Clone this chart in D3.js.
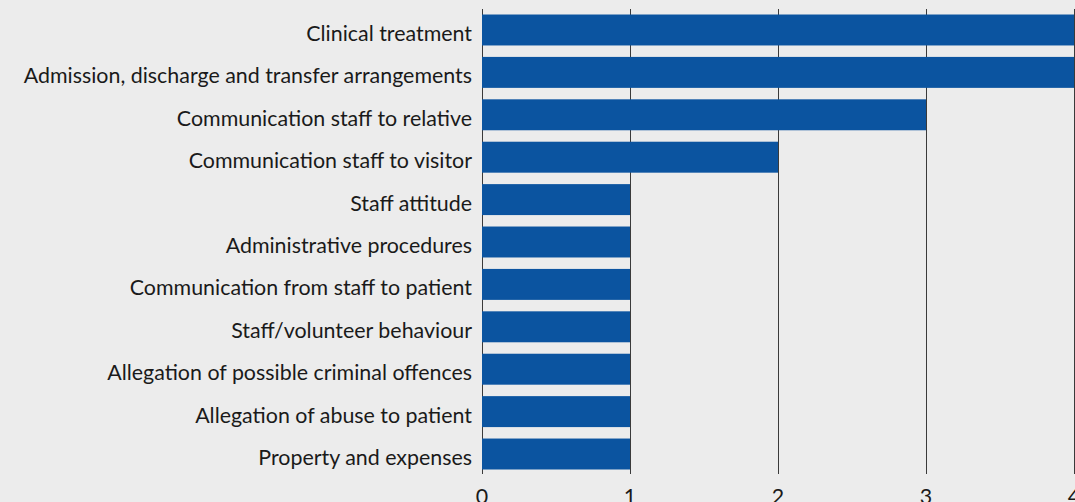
<!DOCTYPE html>
<html>
<head>
<meta charset="utf-8">
<script src="https://cdn.jsdelivr.net/npm/d3@7"></script>
<style>
  html, body { margin: 0; padding: 0; background: #ececec; }
  svg { display: block; }
  text { font-family: "Lato", "Noto Sans", sans-serif; fill: #1a1a1a; }
</style>
</head>
<body>
<svg id="chart" width="1075" height="502"></svg>
<script>
// Complaint categories and counts
const categories = [
  "Clinical treatment",
  "Admission, discharge and transfer arrangements",
  "Communication staff to relative",
  "Communication staff to visitor",
  "Staff attitude",
  "Administrative procedures",
  "Communication from staff to patient",
  "Staff/volunteer behaviour",
  "Allegation of possible criminal offences",
  "Allegation of abuse to patient",
  "Property and expenses"
];
const counts = [4, 4, 3, 2, 1, 1, 1, 1, 1, 1, 1];
const xTicks = [0, 1, 2, 3, 4];

const svg = d3.select("#chart");
const W = 1075, H = 502;
const plotLeft = 482, plotRight = 1074, plotTop = 9, plotBottom = 475;
const fontSize = 21.4;

svg.append("rect").attr("width", W).attr("height", H).attr("fill", "#ececec");

const x = d3.scaleLinear().domain([0, 4]).range([plotLeft, plotRight]);
const y = d3.scaleBand().domain(categories).range([plotTop, plotBottom])
  .paddingInner(0.27).paddingOuter(0.13);

// vertical gridlines (drawn behind the bars)
svg.append("g").selectAll("line").data(xTicks).join("line")
  .attr("x1", d => x(d) + 0.5).attr("x2", d => x(d) + 0.5)
  .attr("y1", plotTop).attr("y2", plotBottom - 1)
  .attr("stroke", "#3a3a3a").attr("stroke-width", 1);

// bars
svg.append("g").selectAll("rect").data(categories).join("rect")
  .attr("x", x(0))
  .attr("y", d => y(d))
  .attr("width", (d, i) => x(counts[i]) - x(0))
  .attr("height", y.bandwidth())
  .attr("fill", "#0b54a0");

// category labels
svg.append("g").selectAll("text").data(categories).join("text")
  .attr("x", plotLeft - 10)
  .attr("y", d => y(d) + y.bandwidth() / 2 + 11)
  .attr("text-anchor", "end")
  .attr("font-size", fontSize)
  .text(d => d);

// x tick labels (partly below the bottom edge)
svg.append("g").selectAll("text").data(xTicks).join("text")
  .attr("x", d => x(d))
  .attr("y", 504)
  .attr("text-anchor", "middle")
  .attr("font-size", fontSize)
  .text(d => d);
</script>
</body>
</html>
